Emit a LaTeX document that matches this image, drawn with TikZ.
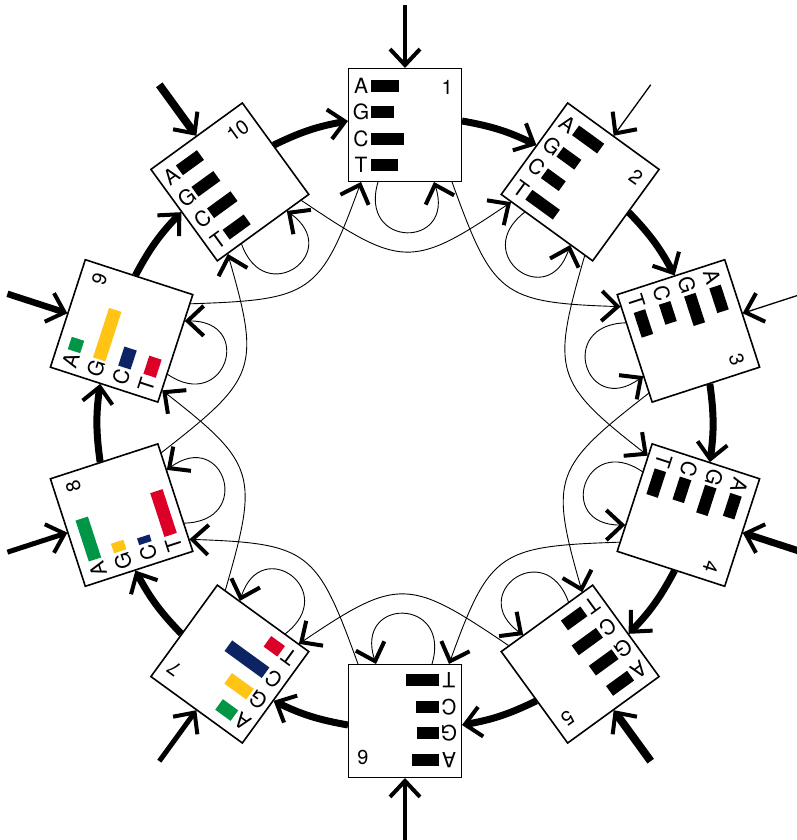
\documentclass[tikz,border=0pt]{standalone}
\usepackage{fontspec}
\setmainfont{TeX Gyre Heros}
\usetikzlibrary{arrows.meta,calc}
\definecolor{cgreen}{RGB}{0,150,70}
\definecolor{cyellow}{RGB}{255,196,20}
\definecolor{cnavy}{RGB}{12,36,100}
\definecolor{cred}{RGB}{220,0,40}
\begin{document}
\begin{tikzpicture}[x=1pt,y=1pt,
  boxst/.style={draw, line width=1.6pt, fill=white, minimum size=113pt, inner sep=0pt, outer sep=0pt},
  lett/.style={font=\fontsize{21}{21}\selectfont, anchor=base, inner sep=0pt},
  numst/.style={font=\fontsize{20}{20}\selectfont, anchor=base east, inner sep=0pt},
  barbtip/.style={-{Straight Barb[length=16pt,width=30pt,line width=4pt]}},
  inarrow/.style={barbtip},
  arcst/.style={barbtip, line width=7pt},
  thinst/.style={barbtip, line width=0.9pt}]
\useasboundingbox[fill=white] (0,0) rectangle (797,840);
\foreach \k/\la/\lg/\lc/\lt/\ca/\cg/\cc/\ct/\bh/\w in {
 1/28/23/33/27/black/black/black/black/12/4.5,
 2/31/22/22/34/black/black/black/black/12/1.3,
 3/26/31/21/26/black/black/black/black/12/1.3,
 4/24/29/24/27/black/black/black/black/12/7,
 5/26/28/30/24/black/black/black/black/12/8,
 6/27/22/23/33/black/black/black/black/12/4,
 7/19/27/46/17/cgreen/cyellow/cnavy/cred/13/5,
 8/43/10/7/46/cgreen/cyellow/cnavy/cred/13/5,
 9/13/52/20/19/cgreen/cyellow/cnavy/cred/13/6.5,
 10/26/27/29/26/black/black/black/black/12/8}
{
 \pgfmathsetmacro\ang{90-36*(\k-1)}
 \pgfmathsetmacro\rot{-36*(\k-1)}
 \pgfmathsetmacro\hb{\bh/2}
 \begin{scope}[shift={({405+298*cos(\ang)},{417+298*sin(\ang)})}, rotate=\rot, transform shape]
   \node[boxst] (b-\k) at (0,0) {};
   \node[lett] (la-\k) at (-44,31.5) {A};
   \node[lett] (lg-\k) at (-44,5) {G};
   \node[lett] (lc-\k) at (-44,-21.5) {C};
   \node[lett] (lt-\k) at (-44,-48) {T};
   \fill[\ca] (-34,39-\hb) rectangle ++(\la,\bh);
   \fill[\cg] (-34,12.5-\hb) rectangle ++(\lg,\bh);
   \fill[\cc] (-34,-14-\hb) rectangle ++(\lc,\bh);
   \fill[\ct] (-34,-40.5-\hb) rectangle ++(\lt,\bh);
   \node[numst] (n-\k) at (48,30) {\k};
   \coordinate (e-\k) at (57,4);
   \coordinate (w-\k) at (-57,4);
   \coordinate (i-\k) at (-44,-57);
   \coordinate (ic-\k) at (-85,-170);
   \coordinate (o-\k) at (47,-57);
   \coordinate (oc-\k) at (88,-170);
   \coordinate (ls-\k) at (-27,-57);
   \coordinate (lca-\k) at (-47,-124);
   \coordinate (lcb-\k) at (51,-124);
   \coordinate (le-\k) at (29,-57);
   \coordinate (t-\k) at (0,57);
   \coordinate (s-\k) at (0,120);
   \draw[inarrow, line width=\w pt] (s-\k) -- (t-\k);
 \end{scope}
}
\foreach \k [evaluate=\k as \n using {int(mod(\k,10)+1)}] in {1,...,10}
  \draw[arcst] (e-\k) to[bend left=8] (w-\n);
\foreach \k [evaluate=\k as \m using {int(mod(\k+1,10)+1)}] in {1,...,10}{
  \draw[thinst] (o-\k) .. controls (oc-\k) and (ic-\m) .. (i-\m);
  \draw[thinst] (ls-\k) .. controls (lca-\k) and (lcb-\k) .. (le-\k);
}
\end{tikzpicture}
\end{document}
